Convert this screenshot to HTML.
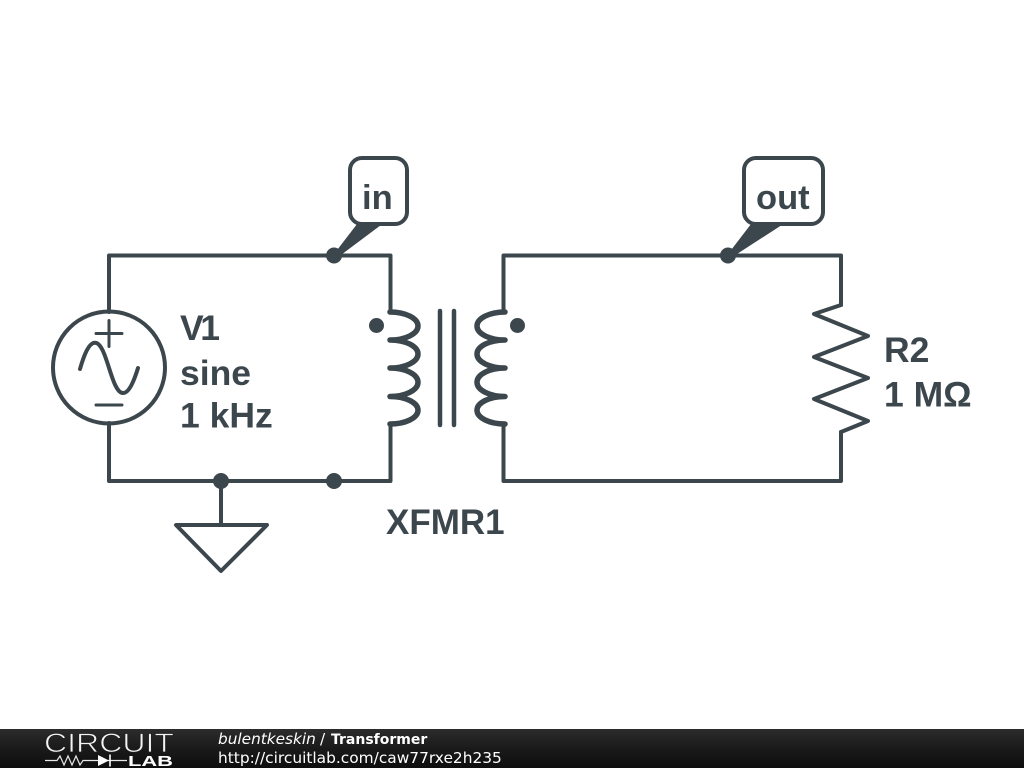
<!DOCTYPE html>
<html><head><meta charset="utf-8"><title>Transformer</title>
<style>html,body{margin:0;padding:0;background:#fff}svg{display:block}</style></head>
<body>
<svg xmlns="http://www.w3.org/2000/svg" width="1024" height="768" viewBox="0 0 1024 768">
<defs><linearGradient id="bar" x1="0" y1="0" x2="0" y2="1"><stop offset="0" stop-color="#2c2c2c"/><stop offset="0.5" stop-color="#1a1a1a"/><stop offset="1" stop-color="#0e0e0e"/></linearGradient></defs>
<rect width="1024" height="768" fill="#fff"/>
<g fill="none" stroke="#3c474d" stroke-width="4" stroke-linecap="round" stroke-linejoin="round">
<!-- wires -->
<path d="M109 312V255.500H390.500V312"/>
<path d="M109 423V481H390.500V424"/>
<path d="M503.500 312V255.500H841V305"/>
<path d="M503.500 424V481H841V432"/>
<path d="M221 481V525"/>
<path d="M221 571L176 525H267Z"/>
<!-- source -->
<circle cx="109" cy="367.500" r="56"/>
<path d="M96 333.500H122M109 320.500V346.500M96 405H122" stroke-width="3"/>
<path d="M80 369C84 355 89 342.700 95 342.700C107 342.700 111 393 123 393C129 393 134 381 138 368"/>
<!-- coils -->
<g stroke-width="5.500">
<path d="M390 312A28 14 0 0 1 390 340A28 14 0 0 1 390 368A28 14.250 0 0 1 390 396.500A28 13.750 0 0 1 390 424"/>
<path d="M505 312A28 14 0 0 0 505 340A28 14 0 0 0 505 368A28 14.250 0 0 0 505 396.500A28 13.750 0 0 0 505 424"/>
</g>
<path d="M440 311V425M454 311V425" stroke-width="4.500"/>
<!-- resistor -->
<path d="M841 305L814 314L868 336L814 357L868 378L814 399L868 421L841 432"/>
<!-- tag boxes -->
<rect x="350" y="158" width="57" height="66" rx="12"/>
<rect x="744" y="158" width="79" height="66" rx="12"/>
</g>
<g fill="#3c474d">
<path d="M335 254L358 224H381L337 257Z" stroke="#3c474d" stroke-width="1.500"/>
<path d="M729 254L752 224H782L731 257Z" stroke="#3c474d" stroke-width="1.500"/>
<circle cx="334" cy="255.500" r="8"/>
<circle cx="728" cy="255.500" r="8"/>
<circle cx="221" cy="481" r="8"/>
<circle cx="334" cy="481" r="8"/>
<circle cx="376.500" cy="325.500" r="7.500"/>
<circle cx="517.500" cy="325.500" r="7.500"/>
<g font-family="'Liberation Sans',sans-serif" font-weight="700" font-size="35.500">
<text x="362" y="209" font-size="34.500">in</text>
<text x="756" y="209" font-size="34.500">out</text>
<text x="180" y="340" textLength="40">V1</text>
<text x="180" y="385">sine</text>
<text x="180" y="427.500">1 kHz</text>
<text x="884" y="362">R2</text>
<text x="884" y="406.500">1 MΩ</text>
<text x="386" y="534" font-size="35">XFMR1</text>
</g>
</g>
<!-- footer -->
<rect x="0" y="729" width="1024" height="39" fill="url(#bar)"/>
<text x="44" y="752" font-family="'Liberation Sans',sans-serif" font-size="26.500" textLength="130" lengthAdjust="spacingAndGlyphs" fill="#f4f4f4" stroke="#202020" stroke-width="0.800">CIRCUIT</text>
<path d="M45 760.500H57L60 756L64 765L68 756L72 765L76 756L80 765L83 760.500H98M108 760.500H127" fill="none" stroke="#e8e8e8" stroke-width="1.200"/>
<path d="M98 755V766L109 760.500Z" fill="#fff"/>
<path d="M110 754.500V766.500" stroke="#fff" stroke-width="1.600"/>
<text x="128" y="766" font-family="'Liberation Sans',sans-serif" font-weight="700" font-size="15" textLength="45" lengthAdjust="spacingAndGlyphs" fill="#fff">LAB</text>
<g font-family="'DejaVu Sans',sans-serif" fill="#fff">
<text x="218" y="744" font-size="15.300" font-style="italic">bulentkeskin</text>
<text x="320" y="744" font-size="15.300">/</text>
<text x="331" y="744" font-size="14" font-weight="700">Transformer</text>
<text x="218" y="763" font-size="15.400">http://circuitlab.com/caw77rxe2h235</text>
</g>
</svg>
</body></html>
